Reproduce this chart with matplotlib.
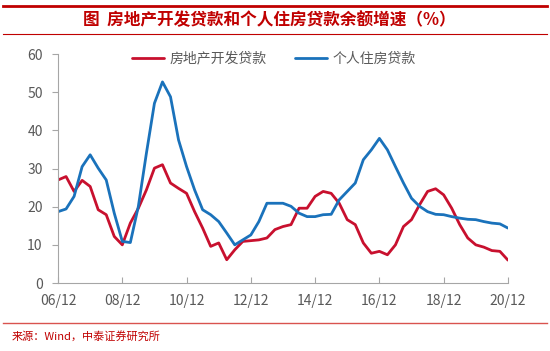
import matplotlib
matplotlib.use("Agg")
import matplotlib.pyplot as plt
from matplotlib.lines import Line2D
import numpy as np

plt.rcParams['font.family'] = ['Noto Sans CJK SC', 'DejaVu Sans']

# quarterly, 2006Q4 .. 2020Q4
dev_loans = [27.0, 27.9, 24.0, 26.9, 25.3, 19.2, 17.9, 12.2, 10.0, 15.7,
             19.6, 24.4, 30.1, 31.0, 26.2, 24.8, 23.5, 18.7, 14.4, 9.6,
             10.5, 6.1, 8.7, 10.9, 11.1, 11.3, 11.8, 14.0, 14.8, 15.3,
             19.6, 19.6, 22.7, 24.0, 23.5, 20.9, 16.6, 15.3, 10.5, 7.8,
             8.3, 7.4, 10.0, 14.8, 16.6, 20.5, 24.0, 24.7, 23.1, 19.6,
             15.3, 11.8, 10.0, 9.4, 8.5, 8.3, 6.0]
home_loans = [18.7, 19.4, 22.7, 30.5, 33.6, 30.1, 27.0, 18.3, 10.9, 10.6,
              20.1, 34.0, 47.1, 52.7, 48.8, 37.5, 30.5, 24.4, 19.2, 17.9,
              16.1, 13.1, 10.0, 11.3, 12.6, 16.1, 20.9, 20.9, 20.9, 20.1,
              18.3, 17.4, 17.4, 17.9, 18.0, 21.8, 24.0, 26.2, 32.3, 34.9,
              37.9, 34.9, 30.5, 26.2, 22.2, 20.1, 18.7, 18.0, 17.9, 17.4,
              17.0, 16.7, 16.6, 16.1, 15.7, 15.5, 14.4]
xtick_labels = ["06/12", "08/12", "10/12", "12/12", "14/12", "16/12", "18/12", "20/12"]
series_names = ["房地产开发贷款", "个人住房贷款"]

red = "#C8102E"
blue = "#1A72BB"
grey = "#595959"

fig = plt.figure(figsize=(5.5, 3.51), dpi=100)
ax = fig.add_axes([0.1055, 0.1937, 0.818, 0.6523])

q = np.arange(len(dev_loans))
ax.plot(q, dev_loans, color=red, lw=2, label=series_names[0],
        solid_joinstyle="round", solid_capstyle="round")
ax.plot(q, home_loans, color=blue, lw=2, label=series_names[1],
        solid_joinstyle="round", solid_capstyle="round")

ax.set_xlim(0, len(dev_loans) - 1)
ax.set_ylim(0, 60)
ax.set_yticks(np.arange(0, 61, 10))
ax.set_xticks(np.arange(0, len(dev_loans), 8))
ax.set_xticklabels(xtick_labels)

for s in ["top", "right"]:
    ax.spines[s].set_visible(False)
for s in ["left", "bottom"]:
    ax.spines[s].set_color("#A6A6A6")
ax.tick_params(axis="y", direction="out", length=4, color="#A6A6A6",
               labelcolor=grey, labelsize=10, pad=7)
ax.tick_params(axis="x", direction="in", length=4, color="#A6A6A6",
               labelcolor=grey, labelsize=10, pad=8)

leg = ax.legend(loc="upper center", bbox_to_anchor=(0.48, 1.065), ncol=2,
                frameon=False, fontsize=10, handlelength=2.3,
                columnspacing=2.0, handletextpad=0.4)
for t in leg.get_texts():
    t.set_color(grey)

# header / footer decorations
fig.add_artist(Line2D([0.005, 0.995], [0.983, 0.983], color="#C00000", lw=2))
fig.add_artist(Line2D([0.005, 0.995], [0.903, 0.903], color="#C00000", lw=0.8))
fig.text(0.49, 0.943, "图  房地产开发贷款和个人住房贷款余额增速（%）",
         ha="center", va="center", color="#C00000", fontsize=12,
         fontweight="bold")
fig.add_artist(Line2D([0.005, 0.995], [0.081, 0.081], color="#D9534F", lw=1))
fig.text(0.022, 0.043, "来源：Wind，中泰证券研究所", ha="left", va="center",
         color="#C00000", fontsize=8)

fig.savefig("out.png", dpi=100)
